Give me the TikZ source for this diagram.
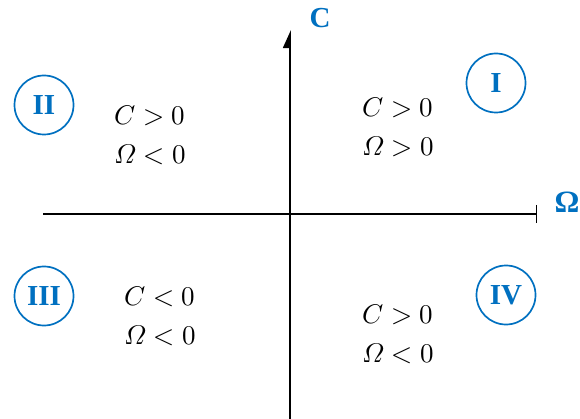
\documentclass[tikz,border=0pt]{standalone}
\usepackage{fontspec}
\usepackage[math-style=ISO]{unicode-math}
\setmainfont{Liberation Serif}
\setmathfont{Latin Modern Math}
\usetikzlibrary{arrows.meta}
\definecolor{qblue}{RGB}{0,112,192}
\tikzset{
  axis/.style={line width=1.8pt, black},
  quad/.style={circle, draw=qblue, line width=1.7pt, minimum size=59pt, inner sep=0pt,
    text=qblue, font=\fontsize{29}{31}\selectfont\bfseries},
  axlabel/.style={text=qblue, font=\fontsize{29}{31}\selectfont\bfseries, inner sep=0pt},
  cond/.style={align=center, font=\fontsize{27}{39}\selectfont, inner sep=0pt}
}
\begin{document}
\begin{tikzpicture}[x=1pt,y=-1pt]
\useasboundingbox (0,0) rectangle (580,419);
\coordinate (vb) at (290,419);
\coordinate (vt) at (290,30);
\coordinate (hl) at (43,214);
\coordinate (hr) at (537,214);
\draw[axis, -{Triangle[left, length=16pt, width=14pt]}] (vb) -- (vt);
\draw[axis, -{Bar[width=18pt, line width=1.2pt]}] (hl) -- (hr);
\node[axlabel] (lc) at (320,18) {C};
\node[axlabel, font=\fontsize{31}{33}\selectfont\bfseries] (lo) at (567,202) {Ω};
\node[quad] (q1) at (496,83) {I};
\node[quad] (q2) at (44,105) {II};
\node[quad] (q3) at (44,296) {III};
\node[quad] (q4) at (506,295) {IV};
\node[cond] (t1) at (398,127) {$C>0$\\$\Omega>0$};
\node[cond] (t2) at (150,135) {$C>0$\\$\Omega<0$};
\node[cond] (t3) at (160,316) {$C<0$\\$\Omega<0$};
\node[cond] (t4) at (398,334) {$C>0$\\$\Omega<0$};
\end{tikzpicture}
\end{document}
